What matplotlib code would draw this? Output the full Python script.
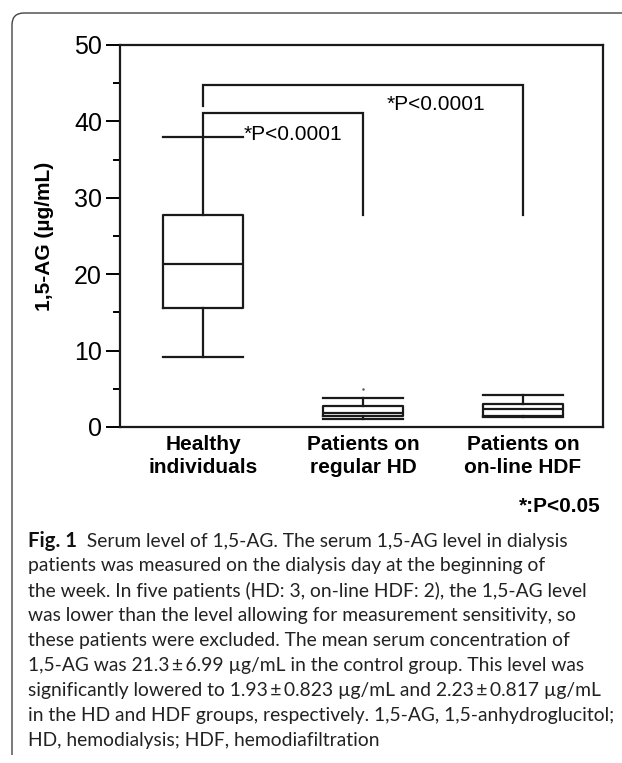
import numpy as np
import matplotlib.pyplot as plt
from matplotlib.path import Path
from matplotlib.patches import PathPatch

# box statistics (ug/mL)
groups = ['Healthy\nindividuals', 'Patients on\nregular HD', 'Patients on\non-line HDF']
whislo = [9.2, 1.0, 1.3]
q1 = [15.6, 1.4, 1.45]
med = [21.4, 1.8, 2.4]
q3 = [27.7, 2.75, 3.0]
whishi = [37.9, 3.8, 4.2]
fliers = [[], [5.0], []]

# significance brackets: (left group, right group, bar height, left foot, right foot, label)
brackets = [(1, 2, 41.1, 37.9, 27.7, '*P<0.0001'),
            (1, 3, 44.8, 42.0, 27.7, '*P<0.0001')]
yticks = [0, 10, 20, 30, 40, 50]

caption = [
    ('Fig. 1', '  Serum level of 1,5-AG. The serum 1,5-AG level in dialysis'),
    ('', 'patients was measured on the dialysis day at the beginning of'),
    ('', 'the week. In five patients (HD: 3, on-line HDF: 2), the 1,5-AG level'),
    ('', 'was lower than the level allowing for measurement sensitivity, so'),
    ('', 'these patients were excluded. The mean serum concentration of'),
    ('', '1,5-AG was 21.3\u2009\u00b1\u20096.99 \u00b5g/mL in the control group. This level was'),
    ('', 'significantly lowered to 1.93\u2009\u00b1\u20090.823 \u00b5g/mL and 2.23\u2009\u00b1\u20090.817 \u00b5g/mL'),
    ('', 'in the HD and HDF groups, respectively. 1,5-AG, 1,5-anhydroglucitol;'),
    ('', 'HD, hemodialysis; HDF, hemodiafiltration'),
]

plt.rcParams['font.family'] = ['Liberation Sans', 'DejaVu Sans']

W, H = 622, 763
fig = plt.figure(figsize=(W / 100, H / 100), dpi=100)
ax = fig.add_axes([120 / W, 1 - 427 / H, 483 / W, 382 / H])

stats = []
for i in range(len(groups)):
    stats.append(dict(whislo=whislo[i], q1=q1[i], med=med[i], q3=q3[i],
                      whishi=whishi[i], fliers=fliers[i]))
pos = np.arange(1, len(groups) + 1)
lc = '#1a1a1a'
ax.bxp(stats, positions=pos, widths=0.5, capwidths=0.5, showfliers=True,
       boxprops=dict(color=lc, lw=1.6),
       medianprops=dict(color=lc, lw=1.6),
       whiskerprops=dict(color=lc, lw=1.6),
       capprops=dict(color=lc, lw=1.6),
       flierprops=dict(marker='.', markersize=1.5, markerfacecolor='#555',
                       markeredgecolor='#555'))

for a, b, h, fl, fr, lab in brackets:
    ax.plot([a, a, b, b], [fl, h, h, fr], color=lc, lw=1.6, solid_joinstyle='miter')

ax.text(1.25, 38.3, brackets[0][5], fontsize=15, ha='left', va='center')
ax.text(2.15, 42.2, brackets[1][5], fontsize=15, ha='left', va='center')

ax.set_xlim(0.48, 3.5)
ax.set_ylim(0, 50)
ax.set_yticks(yticks)
ax.set_yticks(np.arange(5, 50, 10), minor=True)
ax.tick_params(axis='y', which='major', length=10, width=1.4, labelsize=18, pad=3)
ax.tick_params(axis='y', which='minor', length=5, width=1.4)
ax.set_xticks(pos)
ax.set_xticklabels(groups, fontsize=15, fontweight='bold', linespacing=1.25)
ax.tick_params(axis='x', length=0, pad=6)
for s in ax.spines.values():
    s.set_linewidth(1.6)
    s.set_color(lc)
ax.set_ylabel('1,5-AG (\u00b5g/mL)', fontsize=15, fontweight='bold', labelpad=14)

fig.text(601 / W, 1 - 506 / H, '*:P<0.05', fontsize=15, fontweight='bold',
         ha='right', va='center')

# caption lines, font size fitted so the longest line spans ~28..605 px
cap_font = ['Lato', 'DejaVu Sans']
probe = fig.text(0, 0, caption[6][1], fontsize=14, family=cap_font)
fig.canvas.draw()
fs = 14 * 577 / probe.get_window_extent().width
probe.remove()

for k, (head, body) in enumerate(caption):
    y = 1 - (541 + 24.9 * k) / H
    x0 = 28 / W
    if head:
        t = fig.text(x0, y, head, fontsize=fs * 1.05, fontweight='bold',
                     family=cap_font, va='center', ha='left', color='#111')
        fig.canvas.draw()
        x0 = t.get_window_extent().x1 / W
    fig.text(x0, y, body, fontsize=fs, family=cap_font,
             va='center', ha='left', color='#222')

# outer frame, rounded top-left corner, open at right and bottom
r = 12
verts = [(12, 755), (12, 13 + r), (12, 13), (12 + r, 13), (640, 13)]
codes = [Path.MOVETO, Path.LINETO, Path.CURVE3, Path.CURVE3, Path.LINETO]
verts = [(x / W, 1 - y / H) for x, y in verts]
fig.add_artist(PathPatch(Path(verts, codes), transform=fig.transFigure,
                         fill=False, edgecolor='#444', lw=1.0))

fig.savefig('out.png', dpi=100)
